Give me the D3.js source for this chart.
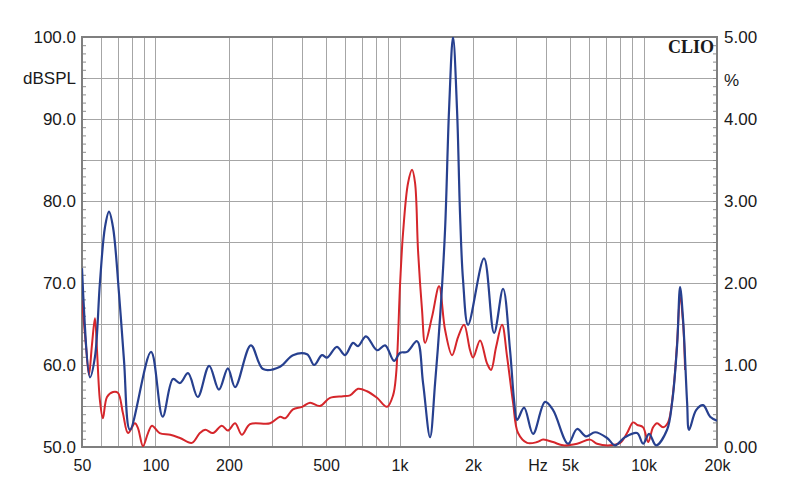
<!DOCTYPE html>
<html>
<head>
<meta charset="utf-8">
<script src="https://cdn.jsdelivr.net/npm/d3@7/dist/d3.min.js"></script>
<style>
  html, body { margin: 0; padding: 0; background: #ffffff; }
  svg { display: block; }
  text { font-family: Arial, "Liberation Sans", sans-serif; fill: #1a1a1a; }
</style>
</head>
<body>
<svg id="chart" width="800" height="504"></svg>
<script>
// ---- data ----
const blueFreq = [50, 53.9, 56.5, 59.2, 62.1, 64.5, 67.0, 70.9, 74.3, 78.6, 95.9, 107, 118, 126, 136, 149, 166, 182, 198, 212, 246, 276, 324, 366, 418, 447, 481, 505, 554, 598, 645, 676, 729, 809, 873, 950, 1006, 1074, 1180, 1249, 1334, 1399, 1467, 1537, 1596, 1657, 1721, 1771, 1821, 1910, 2220, 2441, 2657, 2838, 2948, 3033, 3240, 3526, 3949, 4260, 4907, 5342, 5815, 6332, 7090, 7643, 8400, 9409, 9962, 10539, 11258, 12488, 13091, 13727, 14118, 14525, 15087, 15368, 16424, 17543, 18743, 20000];
const blueVal  = [2.18, 0.85, 1.10, 2.00, 2.68, 2.87, 2.68, 1.87, 1.06, 0.21, 1.16, 0.37, 0.83, 0.78, 0.90, 0.61, 0.99, 0.70, 0.96, 0.73, 1.24, 0.95, 0.98, 1.12, 1.13, 1.00, 1.12, 1.09, 1.22, 1.12, 1.27, 1.23, 1.35, 1.18, 1.24, 1.05, 1.15, 1.16, 1.29, 0.78, 0.12, 0.78, 1.59, 2.65, 4.11, 5.00, 4.11, 2.83, 2.04, 1.49, 2.30, 1.39, 1.93, 1.18, 0.57, 0.33, 0.48, 0.16, 0.55, 0.45, 0.04, 0.22, 0.13, 0.18, 0.11, 0.02, 0.12, 0.17, 0.04, 0.16, 0.02, 0.21, 0.54, 1.24, 1.95, 1.55, 0.54, 0.21, 0.45, 0.51, 0.37, 0.32];

const redFreq = [50, 51.9, 53.4, 54.9, 56.5, 57.6, 59.2, 60.9, 63.3, 67.0, 70.2, 73.6, 77.2, 82.4, 84.8, 88.9, 93.2, 96.8, 104, 115, 126, 141, 152, 160, 172, 187, 198, 212, 226, 244, 295, 324, 340, 366, 399, 430, 472, 519, 587, 627, 676, 736, 809, 889, 941, 968, 1006, 1034, 1084, 1126, 1158, 1191, 1237, 1273, 1360, 1453, 1537, 1642, 1738, 1839, 1946, 2003, 2139, 2284, 2372, 2488, 2632, 2760, 2920, 3061, 3333, 3662, 3875, 4260, 4681, 5342, 6039, 6451, 7290, 8013, 8560, 9061, 9409, 9962, 10441, 10943, 11363, 12026, 12606, 13213, 13727, 14118, 14525, 14800];
const redVal  = [1.79, 1.24, 0.88, 1.24, 1.57, 1.18, 0.57, 0.35, 0.61, 0.67, 0.66, 0.41, 0.17, 0.29, 0.23, 0.01, 0.17, 0.26, 0.17, 0.15, 0.11, 0.05, 0.17, 0.21, 0.17, 0.26, 0.20, 0.29, 0.15, 0.28, 0.29, 0.37, 0.35, 0.46, 0.49, 0.54, 0.50, 0.60, 0.62, 0.63, 0.71, 0.68, 0.60, 0.49, 0.63, 0.88, 2.00, 2.61, 3.22, 3.38, 3.22, 2.40, 1.67, 1.27, 1.59, 1.96, 1.43, 1.12, 1.34, 1.49, 1.18, 1.09, 1.30, 1.02, 0.94, 1.22, 1.49, 1.10, 0.54, 0.17, 0.05, 0.06, 0.09, 0.06, 0.02, 0.04, 0.09, 0.04, 0.02, 0.05, 0.17, 0.30, 0.27, 0.24, 0.06, 0.24, 0.29, 0.24, 0.30, 0.66, 1.27, 1.83, 1.51, 0.94];

const xGrid = [50, 60, 70, 80, 90, 100, 200, 300, 400, 500, 600, 700, 800, 900, 1000, 2000, 3000, 4000, 5000, 6000, 7000, 8000, 9000, 10000, 20000];
const xTickValues = [50, 100, 200, 500, 1000, 2000, 5000, 10000, 20000];
const xTickLabels = ["50", "100", "200", "500", "1k", "2k", "5k", "10k", "20k"];
const leftTickValues = [50, 60, 70, 80, 90, 100];
const leftTickLabels = ["50.0", "60.0", "70.0", "80.0", "90.0", "100.0"];
const rightTickValues = [0, 1, 2, 3, 4, 5];
const rightTickLabels = ["0.00", "1.00", "2.00", "3.00", "4.00", "5.00"];

// ---- layout ----
const L = 82, R = 717, T = 37, B = 447;
const svg = d3.select("#chart");

const x = d3.scaleLog().domain([50, 20000]).range([L, R]);
const yL = d3.scaleLinear().domain([50, 100]).range([B, T]);
const yR = d3.scaleLinear().domain([0, 5]).range([B, T]);

// grid
const grid = svg.append("g");
grid.selectAll("line.v").data(xGrid).join("line")
  .attr("x1", d => Math.round(x(d)) + 0.5).attr("x2", d => Math.round(x(d)) + 0.5)
  .attr("y1", T).attr("y2", B)
  .attr("stroke", "#a6a6a6").attr("stroke-width", 1);
grid.selectAll("line.h").data(d3.range(50, 101, 5)).join("line")
  .attr("x1", L).attr("x2", R)
  .attr("y1", d => Math.round(yL(d)) + 0.5).attr("y2", d => Math.round(yL(d)) + 0.5)
  .attr("stroke", "#a6a6a6").attr("stroke-width", 1);

// minor ticks inside left and right edges
const minorL = d3.axisRight(yL).tickValues(d3.range(50, 101, 1)).tickSize(4).tickFormat("");
svg.append("g").attr("transform", `translate(${L},0)`).call(minorL)
  .call(g => g.select(".domain").remove())
  .call(g => g.selectAll("line").attr("stroke", "#8c8c8c"));
const minorR = d3.axisLeft(yR).tickValues(d3.range(0, 5.01, 0.1)).tickSize(4).tickFormat("");
svg.append("g").attr("transform", `translate(${R},0)`).call(minorR)
  .call(g => g.select(".domain").remove())
  .call(g => g.selectAll("line").attr("stroke", "#8c8c8c"));

// frame
svg.append("rect").attr("x", L).attr("y", T).attr("width", R - L).attr("height", B - T)
  .attr("fill", "none").attr("stroke", "#7f7f7f").attr("stroke-width", 2);

// curves
svg.append("clipPath").attr("id", "plotclip").append("rect")
  .attr("x", L).attr("y", T).attr("width", R - L).attr("height", B - T);

const line = d3.line().x(d => x(d[0])).y(d => yR(d[1])).curve(d3.curveCatmullRom.alpha(0.5));
const curves = svg.append("g").attr("clip-path", "url(#plotclip)");
curves.append("path").datum(d3.zip(redFreq, redVal))
  .attr("d", line).attr("fill", "none").attr("stroke", "#d5262b").attr("stroke-width", 2)
  .attr("stroke-linejoin", "round");
curves.append("path").datum(d3.zip(blueFreq, blueVal))
  .attr("d", line).attr("fill", "none").attr("stroke", "#27408f").attr("stroke-width", 2.2)
  .attr("stroke-linejoin", "round");

// axis labels
const axL = d3.axisLeft(yL).tickValues(leftTickValues).tickSize(0).tickPadding(6)
  .tickFormat((d, i) => leftTickLabels[i]);
svg.append("g").attr("transform", `translate(${L},0)`).call(axL)
  .call(g => g.select(".domain").remove())
  .call(g => g.selectAll("text").attr("font-size", 17).attr("font-family", "Arial, 'Liberation Sans', sans-serif").attr("fill", "#1a1a1a"));
const axR = d3.axisRight(yR).tickValues(rightTickValues).tickSize(0).tickPadding(7)
  .tickFormat((d, i) => rightTickLabels[i]);
svg.append("g").attr("transform", `translate(${R},0)`).call(axR)
  .call(g => g.select(".domain").remove())
  .call(g => g.selectAll("text").attr("font-size", 17).attr("font-family", "Arial, 'Liberation Sans', sans-serif").attr("fill", "#1a1a1a"));
const axB = d3.axisBottom(x).tickValues(xTickValues).tickSize(0).tickPadding(13)
  .tickFormat((d, i) => xTickLabels[i]);
svg.append("g").attr("transform", `translate(0,${B})`).call(axB)
  .call(g => g.select(".domain").remove())
  .call(g => g.selectAll("text").attr("font-size", 16).attr("font-family", "Arial, 'Liberation Sans', sans-serif").attr("fill", "#1a1a1a"));

// unit labels
svg.append("text").attr("x", 76).attr("y", yL(95)).attr("dy", "0.35em")
  .attr("text-anchor", "end").attr("font-size", 17).text("dBSPL");
svg.append("text").attr("x", 724).attr("y", yR(4.5) + 2).attr("dy", "0.35em")
  .attr("text-anchor", "start").attr("font-size", 17).text("%");
svg.append("text").attr("x", 538).attr("y", B + 13).attr("dy", "0.71em")
  .attr("text-anchor", "middle").attr("font-size", 16).text("Hz");
svg.append("text").attr("x", 714).attr("y", 53)
  .attr("text-anchor", "end").attr("font-size", 18).attr("font-weight", "bold")
  .style("font-family", "'Liberation Serif', 'DejaVu Serif', serif").text("CLIO");
</script>
</body>
</html>
